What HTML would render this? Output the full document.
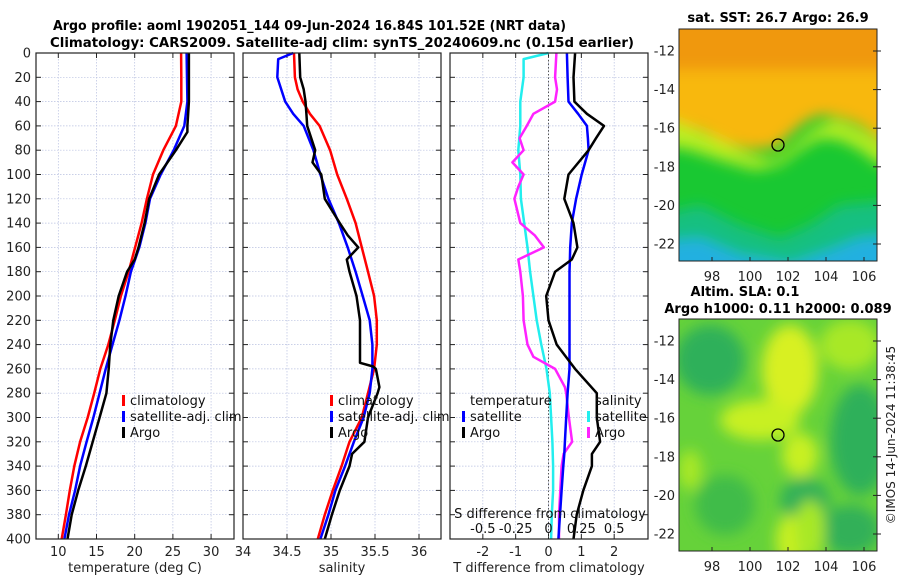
<!DOCTYPE html>
<html><head><meta charset="utf-8">
<style>
body{margin:0;background:#fff;}
svg text{font-family:"DejaVu Sans","Liberation Sans",sans-serif;}
</style></head>
<body>
<svg id="fig" width="900" height="580" viewBox="0 0 900 580" xmlns="http://www.w3.org/2000/svg">
<defs>
<filter id="blur8" x="-20%" y="-20%" width="140%" height="140%"><feGaussianBlur stdDeviation="7"/></filter>
<clipPath id="clipM1"><rect x="679" y="29" width="198" height="232"/></clipPath>
<clipPath id="clipM2"><rect x="679" y="319" width="198" height="232"/></clipPath>
</defs>
<text x="53" y="30" font-size="13" font-weight="bold" textLength="513" lengthAdjust="spacingAndGlyphs">Argo profile: aoml 1902051_144 09-Jun-2024 16.84S 101.52E (NRT data)</text>
<text x="50" y="47" font-size="13" font-weight="bold" textLength="584" lengthAdjust="spacingAndGlyphs">Climatology: CARS2009. Satellite-adj clim: synTS_20240609.nc (0.15d earlier)</text>
<g id="panels"></g>
<g id="maps">
 <text x="778" y="22" font-size="13" font-weight="bold" text-anchor="middle">sat. SST: 26.7 Argo: 26.9</text>
 <g clip-path="url(#clipM1)">
  <rect x="679" y="29" width="198" height="232" fill="#19c832"/>
  <g filter="url(#blur8)">
   <rect x="660" y="10" width="240" height="80" fill="#f0980e"/>
   <polygon points="660,70 900,70 900,150 880,140 860,125 840,118 820,115 805,122 790,135 775,148 750,150 725,143 700,130 660,122" fill="#f8b808"/>
   <polygon points="660,115 720,140 750,155 775,160 795,145 815,128 835,120 860,130 900,155 900,165 880,165 860,150 840,140 820,138 800,150 780,165 755,170 720,160 690,150 660,145" fill="#b8ee20"/>
   <polygon points="660,215 700,205 740,225 780,238 810,225 840,205 900,200 900,290 660,290" fill="#12c080"/>
   <polygon points="660,242 700,238 740,255 790,264 830,250 860,238 900,235 900,290 660,290" fill="#22b0e0"/>
  </g>
  <circle cx="778" cy="145" r="6" fill="none" stroke="#000" stroke-width="1.3"/>
 </g>
 <rect x="679" y="29" width="198" height="232" fill="none" stroke="#222" stroke-width="1"/>
 <text x="745" y="296" font-size="13" font-weight="bold" text-anchor="middle">Altim. SLA: 0.1</text>
 <text x="778" y="313" font-size="13" font-weight="bold" text-anchor="middle">Argo h1000: 0.11 h2000: 0.089</text>
 <g clip-path="url(#clipM2)">
  <rect x="679" y="319" width="198" height="232" fill="#66d23a"/>
  <g filter="url(#blur8)">
   <ellipse cx="710" cy="360" rx="35" ry="35" fill="#2eb05a"/>
   <ellipse cx="860" cy="440" rx="30" ry="55" fill="#2eb05a"/>
   <ellipse cx="850" cy="530" rx="30" ry="25" fill="#30b058"/>
   <ellipse cx="725" cy="505" rx="30" ry="30" fill="#40bc48"/>
   <ellipse cx="805" cy="500" rx="25" ry="22" fill="#30b058"/>
   <ellipse cx="690" cy="470" rx="12" ry="20" fill="#a8e828"/>
   <ellipse cx="790" cy="370" rx="28" ry="45" fill="#d8f020"/>
   <ellipse cx="760" cy="420" rx="40" ry="20" fill="#c8f020"/>
   <ellipse cx="800" cy="455" rx="18" ry="22" fill="#c8f020"/>
   <ellipse cx="790" cy="540" rx="14" ry="25" fill="#c8f020"/>
   <ellipse cx="850" cy="345" rx="30" ry="25" fill="#a8e828"/>
   <ellipse cx="810" cy="530" rx="15" ry="30" fill="#a8e828"/>
  </g>
  <circle cx="778" cy="435" r="6" fill="none" stroke="#000" stroke-width="1.3"/>
 </g>
 <rect x="679" y="319" width="198" height="232" fill="none" stroke="#222" stroke-width="1"/>
 <text transform="translate(895,435) rotate(-90)" font-size="12" text-anchor="middle" fill="#222">©IMOS 14-Jun-2024 11:38:45</text>
</g>
<g id="mapaxes"></g>
</svg>
<script>
// ---- data ----
const depths = [0,20,40,60,80,100,120,140,160,180,200,220,240,260,280,300,320,340,360,380,400];
const tempClim = [26.07,26.1,26.1,25.4,23.75,22.4,21.6,20.9,20.05,19.2,18.2,17.4,16.55,15.5,14.7,13.85,12.85,12.1,11.5,11.0,10.45];
const tempSat  = [26.8,26.85,26.9,26.5,25.1,23.4,22.0,21.4,20.6,19.5,18.8,18.0,17.1,16.2,15.4,14.6,13.7,12.85,12.2,11.4,10.8];
const argoDepths = [0,20,40,60,65,80,100,120,140,160,170,180,200,220,240,260,280,300,320,340,360,380,400];
const tempArgo = [27.1,27.1,27.1,26.9,26.9,25.4,23.2,21.9,21.3,20.5,20.0,19.0,17.9,17.2,16.8,16.6,16.3,15.4,14.5,13.6,12.6,11.75,11.2];
const salClimDepths = [0,20,30,40,50,60,80,100,120,140,160,180,200,220,240,260,280,300,320,340,360,380,400];
const salClim = [34.58,34.59,34.62,34.68,34.76,34.87,34.99,35.07,35.18,35.28,35.35,35.42,35.49,35.52,35.52,35.49,35.42,35.35,35.21,35.12,35.02,34.93,34.85];
const salSatDepths = [0,5,20,40,50,60,80,100,120,140,160,180,200,220,240,260,280,300,320,340,360,380,400];
const salSat = [34.57,34.40,34.39,34.48,34.57,34.69,34.80,34.88,34.97,35.09,35.19,35.28,35.36,35.44,35.47,35.47,35.44,35.37,35.26,35.16,35.05,34.97,34.88];
const salArgoDepths = [0,20,30,40,50,60,80,90,100,120,140,150,160,170,180,200,220,240,255,258,260,275,280,300,320,330,340,360,380,400];
const salArgo = [34.64,34.65,34.69,34.71,34.72,34.73,34.82,34.79,34.89,34.93,35.10,35.19,35.31,35.18,35.21,35.29,35.33,35.33,35.33,35.48,35.51,35.55,35.53,35.42,35.38,35.24,35.21,35.10,35.01,34.93];
const diffDepths = [0,20,40,50,60,70,80,100,120,140,160,170,180,200,220,240,260,280,300,320,330,340,360,380,400];
const tDiffSat = [0.56,0.58,0.61,0.9,1.17,1.2,1.22,1.01,0.84,0.71,0.66,0.65,0.64,0.64,0.64,0.64,0.64,0.58,0.54,0.5,0.48,0.45,0.4,0.35,0.3];
const tDiffArgo = [0.81,0.76,0.79,1.17,1.69,1.45,1.22,0.61,0.48,0.76,0.88,0.71,0.2,-0.07,0.0,0.25,0.81,1.47,1.47,1.57,1.32,1.32,1.06,0.86,0.76];
const sDiffSatDepths = [0,5,20,40,60,80,100,120,140,160,180,200,220,240,260,280,300,320,340,360,380,400];
const sDiffSat = [0,-0.19,-0.19,-0.215,-0.215,-0.23,-0.215,-0.21,-0.185,-0.16,-0.14,-0.115,-0.09,-0.055,-0.015,0.01,0.02,0.03,0.035,0.035,0.025,0.02];
const sDiffArgoDepths = [0,20,30,40,50,60,70,80,90,100,110,120,140,150,160,170,180,200,220,240,250,260,275,280,300,320,330,340,360,380,400];
const sDiffArgo = [0.06,0.05,0.065,0.05,-0.115,-0.165,-0.22,-0.19,-0.275,-0.19,-0.23,-0.26,-0.215,-0.105,-0.035,-0.23,-0.215,-0.195,-0.19,-0.16,-0.115,0.05,0.125,0.135,0.155,0.18,0.115,0.1,0.09,0.08,0.08];
const depthTicks = [0,20,40,60,80,100,120,140,160,180,200,220,240,260,280,300,320,340,360,380,400];
const tempTicks = [10,15,20,25,30];
const salTicks = [34,34.5,35,35.5,36];
const tDiffTicks = [-2,-1,0,1,2];
const sDiffTicks = [-0.5,-0.25,0,0.25,0.5];
const lonTicks = [98,100,102,104,106];
const latTicks = [-12,-14,-16,-18,-20,-22];

// ---- axes ----
const Y0=53, Y1=539;
const yScale = d => Y0 + (d/400)*(Y1-Y0);
const P1={x0:36,x1:234,min:7.08,max:33.0};
const P2={x0:243,x1:441,min:34,max:36.25};
const P3={x0:450,x1:648,min:-3.0,max:3.03};
const lin = (p)=> v => p.x0 + (v-p.min)/(p.max-p.min)*(p.x1-p.x0);
const xT=lin(P1), xS=lin(P2), xD=lin(P3);
const xSD = v => xD(v*4);
const NS='http://www.w3.org/2000/svg';
const root=document.getElementById('panels');
function mk(tag,attrs,parent){const e=document.createElementNS(NS,tag);for(const k in attrs)e.setAttribute(k,attrs[k]);(parent||root).appendChild(e);return e;}
function txt(s,attrs,parent){const e=mk('text',attrs,parent);e.textContent=s;return e;}

function panel(p,name,xf,ticks,fmt,label,yLabels){
  const g=mk('g',{});
  
  
  depthTicks.forEach(d=>{
    const y=yScale(d);
    const l=mk('line',{x1:p.x0,x2:p.x1,y1:y,y2:y,stroke:'#b8c0e0','stroke-width':0.7,'stroke-dasharray':'1.5,1.5'},g);
    
    
    mk('line',{x1:p.x0,x2:p.x0+5,y1:y,y2:y,stroke:'#222','stroke-width':1},g);
    mk('line',{x1:p.x1-5,x2:p.x1,y1:y,y2:y,stroke:'#222','stroke-width':1},g);
    if(yLabels){const t=txt(String(d),{x:p.x0-5,y:y+4.5,'font-size':13,'text-anchor':'end',fill:'#222'},g);
      
      }
  });
  ticks.forEach(v=>{
    const x=xf(v);
    const l=mk('line',{x1:x,x2:x,y1:Y0,y2:Y1,stroke:'#b8c0e0','stroke-width':0.7,'stroke-dasharray':'1.5,1.5'},g);
    
    
    mk('line',{x1:x,x2:x,y1:Y1-5,y2:Y1,stroke:'#222'},g);
    mk('line',{x1:x,x2:x,y1:Y0,y2:Y0+5,stroke:'#222'},g);
    const t=txt(fmt(v),{x:x,y:Y1+17,'font-size':13,'text-anchor':'middle',fill:'#222'},g);
    
    
  });
  const lab=txt(label,{x:(p.x0+p.x1)/2,y:Y1+33,'font-size':13,'text-anchor':'middle',fill:'#222'},g);
  
  
  return g;
}
function line(g,ds,vs,xf,color,name){
  const pts=ds.map((d,i)=>xf(vs[i]).toFixed(1)+','+yScale(d).toFixed(1)).join(' ');
  const e=mk('polyline',{points:pts,fill:'none',stroke:color,'stroke-width':2.5,'stroke-linejoin':'round'},g);
  
  
}
function frame(g,p){mk('rect',{x:p.x0,y:Y0,width:p.x1-p.x0,height:Y1-Y0,fill:'none',stroke:'#222','stroke-width':1.2},g);}
function legendItem(g,x,y,color,label,name){
  const it=mk('g',{},g);
  
  
  mk('rect',{x:x,y:y-10,width:3,height:11,fill:color},it);
  txt(label,{x:x+8,y:y,'font-size':13,fill:'#111'},it);
}

const g1=panel(P1,'temperature-panel',xT,tempTicks,v=>String(v),'temperature (deg C)',true);
line(g1,depths,tempClim,xT,'#ff0000','temperature-climatology-line');
line(g1,depths,tempSat,xT,'#0000ff','temperature-satellite-line');
line(g1,argoDepths,tempArgo,xT,'#000000','temperature-argo-line');
frame(g1,P1);
legendItem(g1,122,405,'#ff0000','climatology','legend-climatology');
legendItem(g1,122,421,'#0000ff','satellite-adj. clim','legend-satellite-adj');
legendItem(g1,122,437,'#000000','Argo','legend-argo');

const g2=panel(P2,'salinity-panel',xS,salTicks,v=>String(v),'salinity',false);
line(g2,salClimDepths,salClim,xS,'#ff0000','salinity-climatology-line');
line(g2,salSatDepths,salSat,xS,'#0000ff','salinity-satellite-line');
line(g2,salArgoDepths,salArgo,xS,'#000000','salinity-argo-line');
frame(g2,P2);
legendItem(g2,330,405,'#ff0000','climatology','legend-climatology');
legendItem(g2,330,421,'#0000ff','satellite-adj. clim','legend-satellite-adj');
legendItem(g2,330,437,'#000000','Argo','legend-argo');

const g3=panel(P3,'difference-panel',xD,tDiffTicks,v=>String(v),'T difference from climatology',false);
const zl=mk('line',{x1:xD(0),x2:xD(0),y1:Y0,y2:Y1,stroke:'#555','stroke-width':1,'stroke-dasharray':'1.5,2'},g3);


line(g3,sDiffSatDepths,sDiffSat,xSD,'#22eeee','salinity-diff-satellite-line');
line(g3,sDiffArgoDepths,sDiffArgo,xSD,'#ff22ff','salinity-diff-argo-line');
line(g3,diffDepths,tDiffSat,xD,'#0000ff','temperature-diff-satellite-line');
line(g3,diffDepths,tDiffArgo,xD,'#000000','temperature-diff-argo-line');
frame(g3,P3);
const lt=txt('temperature',{x:470,y:405,'font-size':13,fill:'#111'},g3);


legendItem(g3,462,421,'#0000ff','satellite','legend-temperature-satellite');
legendItem(g3,462,437,'#000000','Argo','legend-temperature-argo');
const ls=txt('salinity',{x:595,y:405,'font-size':13,fill:'#111'},g3);


legendItem(g3,587,421,'#22eeee','satellite','legend-salinity-satellite');
legendItem(g3,587,437,'#ff22ff','Argo','legend-salinity-argo');
const st=txt('S difference from climatology',{x:550,y:518,'font-size':13,'text-anchor':'middle',fill:'#111'},g3);


sDiffTicks.forEach(v=>{
  const t=txt(String(v),{x:xSD(v),y:533,'font-size':13,'text-anchor':'middle',fill:'#111'},g3);
  
  
});

// map axes
const ma=document.getElementById('mapaxes');
const lonX = v => 712 + (v-98)*19;
function mapAxes(top,lat12y){
  const latY = v => lat12y + (-12 - v)*19.3;
  lonTicks.forEach(v=>{
    const x=lonX(v);
    mk('line',{x1:x,x2:x,y1:top+232-4,y2:top+232,stroke:'#222'},ma);
    const t=txt(String(v),{x:x,y:top+232+20,'font-size':13,'text-anchor':'middle',fill:'#222'},ma);
    
    
  });
  latTicks.forEach(v=>{
    const y=latY(v);
    mk('line',{x1:877-4,x2:877,y1:y,y2:y,stroke:'#222'},ma);
    mk('line',{x1:877,x2:881,y1:y,y2:y,stroke:'#222'},ma);
    const t=txt(String(v),{x:675,y:y+4.5,'font-size':13,'text-anchor':'end',fill:'#222'},ma);
    
    
  });
}
mapAxes(29,51);
mapAxes(319,341);
</script>
</body></html>
